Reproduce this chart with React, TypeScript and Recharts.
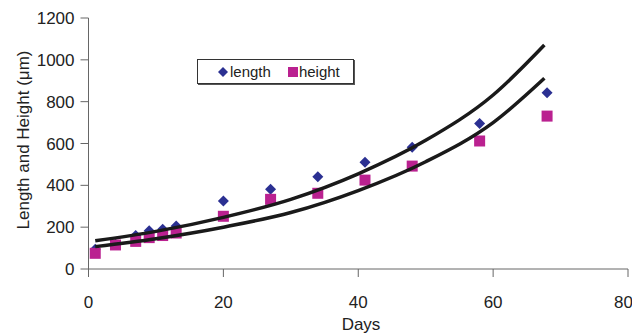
import React from "react";
import { ComposedChart, XAxis, YAxis, Scatter, Line, Label } from "recharts";

const days = [1, 4, 7, 9, 11, 13, 20, 27, 34, 41, 48, 58, 68];
const lengthUm = [95, 118, 160, 183, 190, 205, 325, 381, 441, 510, 582, 696, 843];
const heightUm = [75, 115, 132, 150, 160, 172, 252, 333, 362, 425, 492, 612, 731];

const trendDays = [1, 10, 20, 30, 40, 50, 60, 67.6];
const lengthTrend = [135, 180, 247, 333, 455, 615, 832, 1071];
const heightTrend = [107, 145, 200, 270, 375, 513, 700, 912];

const xTicks = [0, 20, 40, 60, 80];
const yTicks = [0, 200, 400, 600, 800, 1000, 1200];

const BLUE = "#2B3092";
const MAGENTA = "#BA2190";
const FONT = "'Liberation Sans', Arial, sans-serif";

const lengthData = days.map((x, i) => ({ x, y: lengthUm[i] }));
const heightData = days.map((x, i) => ({ x, y: heightUm[i] }));
const lengthTrendData = trendDays.map((x, i) => ({ x, y: lengthTrend[i] }));
const heightTrendData = trendDays.map((x, i) => ({ x, y: heightTrend[i] }));

const Diamond = (props: any) => {
  const { cx, cy } = props;
  if (cx == null || cy == null) return null;
  const r = 5.5;
  return <polygon points={`${cx},${cy - r} ${cx + r},${cy} ${cx},${cy + r} ${cx - r},${cy}`} fill={BLUE} />;
};

const Square = (props: any) => {
  const { cx, cy } = props;
  if (cx == null || cy == null) return null;
  const s = 11;
  return <rect x={cx - s / 2} y={cy - s / 2} width={s} height={s} fill={MAGENTA} />;
};

const LegendBox = () => (
  <div
    style={{
      position: "absolute",
      left: 189,
      top: 51,
      width: 157,
      height: 25,
      border: "1px solid #333",
      boxShadow: "1px 1px 0 #555",
      background: "#fff",
      fontFamily: FONT,
      fontSize: 15,
      color: "#222",
      display: "flex",
      alignItems: "center",
      boxSizing: "border-box",
    }}
  >
    <svg width={10} height={10} style={{ marginLeft: 20, marginRight: 2 }}>
      <polygon points="5,0 10,5 5,10 0,5" fill={BLUE} />
    </svg>
    <span>length</span>
    <svg width={10} height={10} style={{ marginLeft: 17, marginRight: 1 }}>
      <rect x={0} y={0} width={10} height={10} fill={MAGENTA} />
    </svg>
    <span>height</span>
  </div>
);

export default function App() {
  const lineProps: any = { zIndex: 700 };
  return (
    <div style={{ position: "relative", width: 624, height: 326 }}>
      <ComposedChart
        width={624}
        height={326}
        margin={{ top: 10, right: 4, bottom: 0, left: 0 }}
        style={{ fontFamily: FONT }}
      >
        <XAxis
          type="number"
          dataKey="x"
          domain={[0, 80]}
          ticks={xTicks}
          allowDataOverflow
          tickSize={8}
          tickMargin={19}
          height={65}
          stroke="#666"
          tick={{ fill: "#222", fontSize: 17, fontFamily: FONT }}
          label={
            <Label
              content={() => (
                <text x={353} y={322} textAnchor="middle" fill="#222" fontSize={17} fontFamily={FONT}>
                  Days
                </text>
              )}
            />
          }
        />
        <YAxis
          type="number"
          dataKey="y"
          domain={[0, 1200]}
          ticks={yTicks}
          allowDataOverflow
          width={80.5}
          tickSize={8}
          tickMargin={6}
          stroke="#666"
          tick={{ fill: "#222", fontSize: 17, fontFamily: FONT }}
          label={
            <Label
              content={() => (
                <text
                  x={15}
                  y={132}
                  transform="rotate(-90 15 132)"
                  textAnchor="middle"
                  dominantBaseline="central"
                  fill="#222"
                  fontSize={17}
                  fontFamily={FONT}
                >
                  Length and Height (μm)
                </text>
              )}
            />
          }
        />
        <Scatter name="length" data={lengthData} shape={<Diamond />} isAnimationActive={false} />
        <Scatter name="height" data={heightData} shape={<Square />} isAnimationActive={false} />
        <Line
          {...lineProps}
          data={lengthTrendData}
          dataKey="y"
          type="monotone"
          stroke="#1a1a1a"
          strokeWidth={3.5}
          dot={false}
          activeDot={false}
          legendType="none"
          isAnimationActive={false}
        />
        <Line
          {...lineProps}
          data={heightTrendData}
          dataKey="y"
          type="monotone"
          stroke="#1a1a1a"
          strokeWidth={3.5}
          dot={false}
          activeDot={false}
          legendType="none"
          isAnimationActive={false}
        />
      </ComposedChart>
      <LegendBox />
    </div>
  );
}
